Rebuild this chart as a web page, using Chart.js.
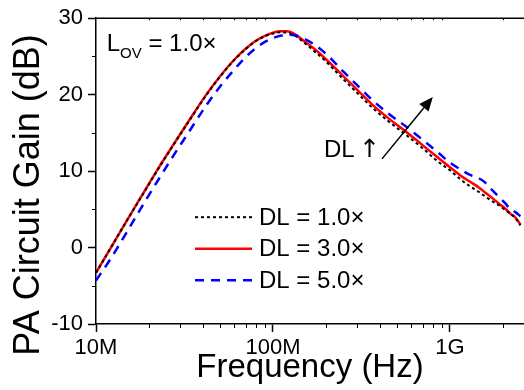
<!DOCTYPE html>
<html>
<head>
<meta charset="utf-8">
<script src="https://cdn.jsdelivr.net/npm/chart.js@4.4.0/dist/chart.umd.min.js"></script>
<style>
  html, body { margin: 0; padding: 0; background: #fff; overflow: hidden; }
  #wrap { width: 524px; height: 390px; }
</style>
</head>
<body>
<div id="wrap"><canvas id="gainChart" width="524" height="390"></canvas></div>
<script>
const FONT = '"Liberation Sans", Arial, Helvetica, sans-serif';

// frequency points (Hz), shared by the three traces
const freqs = [1e7, 1.2e7, 1.5e7, 1.8e7, 2.2e7, 2.7e7, 3.3e7, 4.2e7, 5e7, 6e7,
  7e7, 8e7, 9e7, 1e8, 1.1e8, 1.2e8, 1.3e8, 1.5e8, 1.75e8, 2e8,
  2.5e8, 3e8, 3.6e8, 4.5e8, 5.6e8, 7e8, 8.5e8, 1e9, 1.15e9, 1.3e9,
  1.45e9, 1.6e9, 1.75e9, 1.9e9, 2.05e9, 2.2e9, 2.35e9, 2.5e9];

// gain in dB
const gainDL1 = [-3.3, -0.2, 3.6, 6.6, 9.95, 13.2, 16.3, 19.95, 22.3, 24.45,
  25.95, 27.0, 27.65, 28.0, 28.15, 28.1, 27.85, 26.8, 25.5, 24.3,
  22.0, 20.2, 18.4, 16.5, 14.8, 13.0, 11.3, 10.1, 8.9, 8.0,
  7.3, 6.6, 6.0, 5.5, 4.9, 4.4, 3.8, 2.9];
const gainDL3 = [-3.3, -0.2, 3.6, 6.65, 10.0, 13.25, 16.35, 20.0, 22.35, 24.5,
  26.0, 27.05, 27.7, 28.1, 28.3, 28.3, 28.05, 27.0, 25.8, 24.6,
  22.4, 20.6, 18.8, 16.9, 15.2, 13.4, 11.8, 10.5, 9.4, 8.6,
  7.9, 7.1, 6.4, 5.7, 5.1, 4.4, 3.9, 3.0];
const gainDL5 = [-4.3, -1.6, 2.1, 5.2, 8.5, 11.8, 14.9, 18.6, 21.0, 23.2,
  24.9, 26.1, 26.9, 27.4, 27.7, 27.85, 27.8, 27.3, 26.4, 25.3,
  23.0, 21.2, 19.4, 17.5, 15.9, 14.1, 12.5, 11.1, 10.2, 9.5,
  9.1, 8.4, 7.4, 6.6, 5.8, 5.0, 4.6, 4.1];

const seriesNames = ['DL = 1.0×', 'DL = 3.0×', 'DL = 5.0×'];

const xTickValues = [1e7, 1e8, 1e9];
const xTickLabels = ['10M', '100M', '1G'];
const xMinorTicks = [2e7, 3e7, 4e7, 5e7, 6e7, 7e7, 8e7, 9e7,
  2e8, 3e8, 4e8, 5e8, 6e8, 7e8, 8e8, 9e8, 2e9];
const yMinorTicks = [-5, 5, 15, 25];

function toPoints(vals) {
  return freqs.map((f, i) => ({ x: f, y: vals[i] }));
}

const decor = {
  id: 'decor',
  afterDraw(chart) {
    const ctx = chart.ctx;
    const xs = chart.scales.x, ys = chart.scales.y;
    const a = chart.chartArea;
    ctx.save();
    ctx.strokeStyle = '#000';
    ctx.fillStyle = '#000';
    ctx.lineWidth = 1.5;

    // top frame line
    ctx.beginPath();
    ctx.moveTo(a.left, a.top);
    ctx.lineTo(a.right, a.top);
    ctx.stroke();

    // minor ticks
    ctx.lineWidth = 1;
    ctx.beginPath();
    xMinorTicks.forEach(v => {
      const px = Math.round(xs.getPixelForValue(v)) + 0.5;
      ctx.moveTo(px, a.bottom); ctx.lineTo(px, a.bottom + 4);
      ctx.moveTo(px, a.top); ctx.lineTo(px, a.top + 2);
    });
    yMinorTicks.forEach(v => {
      const py = Math.round(ys.getPixelForValue(v)) + 0.5;
      ctx.moveTo(a.left - 4, py); ctx.lineTo(a.left, py);
    });
    ctx.stroke();

    // y axis title
    ctx.save();
    ctx.translate(29, chart.height / 2);
    ctx.rotate(-Math.PI / 2);
    ctx.font = '36px ' + FONT;
    ctx.textAlign = 'center';
    ctx.textBaseline = 'middle';
    ctx.fillText('PA Circuit Gain (dB)', 0, 0);
    ctx.restore();

    // legend
    ctx.textBaseline = 'middle';
    ctx.textAlign = 'left';
    chart.data.datasets.forEach((ds, i) => {
      const ly = a.top + 199 + i * 31.5;
      const lx = a.left + 99;
      ctx.save();
      ctx.strokeStyle = ds.borderColor;
      ctx.lineWidth = ds.borderWidth;
      ctx.setLineDash(ds.borderDash || []);
      ctx.beginPath();
      ctx.moveTo(lx, ly); ctx.lineTo(lx + 57, ly);
      ctx.stroke();
      ctx.restore();
      ctx.font = '24px ' + FONT;
      ctx.fillText(ds.label, lx + 64, ly + 1);
    });

    // L_OV label
    ctx.textBaseline = 'alphabetic';
    let tx = xs.getPixelForValue(1.15e7);
    const ty = ys.getPixelForValue(25.7);
    ctx.font = '24px ' + FONT;
    ctx.fillText('L', tx, ty);
    tx += ctx.measureText('L').width;
    ctx.font = '15px ' + FONT;
    ctx.fillText('OV', tx, ty + 7);
    tx += ctx.measureText('OV').width;
    ctx.font = '24px ' + FONT;
    ctx.fillText(' = 1.0×', tx, ty);

    // DL arrow label
    let dx = xs.getPixelForValue(1.94e8);
    const dy = ys.getPixelForValue(11.8);
    ctx.fillText('DL ', dx, dy);
    dx += ctx.measureText('DL ').width;
    ctx.font = '25px "DejaVu Sans", sans-serif';
    ctx.fillText('↑', dx - 2, dy);

    const x0 = xs.getPixelForValue(4.13e8), y0 = ys.getPixelForValue(11.6);
    const x1 = xs.getPixelForValue(8.0e8), y1 = ys.getPixelForValue(19.7);
    const ang = Math.atan2(y1 - y0, x1 - x0);
    const hl = 14, hw = 6;
    const bx = x1 - hl * Math.cos(ang), by = y1 - hl * Math.sin(ang);
    ctx.lineWidth = 1.5;
    ctx.beginPath();
    ctx.moveTo(x0, y0); ctx.lineTo(bx, by);
    ctx.stroke();
    ctx.beginPath();
    ctx.moveTo(x1, y1);
    ctx.lineTo(bx + hw * Math.sin(ang), by - hw * Math.cos(ang));
    ctx.lineTo(bx - hw * Math.sin(ang), by + hw * Math.cos(ang));
    ctx.closePath();
    ctx.fill();

    ctx.restore();
  }
};

const ctx = document.getElementById('gainChart');
const myChart = new Chart(ctx, {
  type: 'line',
  data: {
    datasets: [
      { label: seriesNames[0], data: toPoints(gainDL1), borderColor: '#000000',
        borderWidth: 2, borderDash: [3, 3], order: 1 },
      { label: seriesNames[1], data: toPoints(gainDL3), borderColor: '#ff0000',
        borderWidth: 2.5, order: 2 },
      { label: seriesNames[2], data: toPoints(gainDL5), borderColor: '#0000ff',
        borderWidth: 2.5, borderDash: [9, 7], order: 0 }
    ]
  },
  options: {
    responsive: false,
    devicePixelRatio: 1,
    animation: false,
    layout: { padding: { top: 17, left: 0, right: 0, bottom: 0 } },
    elements: {
      point: { radius: 0 },
      line: { cubicInterpolationMode: 'monotone', fill: false }
    },
    plugins: {
      legend: { display: false },
      tooltip: { enabled: false }
    },
    scales: {
      x: {
        type: 'logarithmic',
        min: 1e7,
        max: 2.62e9,
        afterFit: s => { s.height = 66; },
        afterBuildTicks: s => { s.ticks = xTickValues.map(v => ({ value: v })); },
        border: { display: true, color: '#000', width: 1.5 },
        grid: { display: true, drawOnChartArea: false, drawTicks: true,
          tickLength: 8, tickColor: '#000', tickWidth: 1.5 },
        ticks: {
          autoSkip: false, maxRotation: 0, padding: 3, color: '#000',
          font: { family: FONT, size: 22 },
          callback: (v, i) => xTickLabels[i]
        },
        title: {
          display: true, text: 'Frequency (Hz)', color: '#000',
          font: { family: FONT, size: 33, lineHeight: 1 },
          padding: { top: 0, bottom: 6 }
        }
      },
      y: {
        min: -10,
        max: 30,
        afterFit: s => { s.width = 96; },
        border: { display: true, color: '#000', width: 1.5 },
        grid: { display: true, drawOnChartArea: false, drawTicks: true,
          tickLength: 8, tickColor: '#000', tickWidth: 1.5 },
        ticks: {
          stepSize: 10, padding: 5, color: '#000',
          font: { family: FONT, size: 22 }
        }
      }
    }
  },
  plugins: [decor]
});
</script>
</body>
</html>
